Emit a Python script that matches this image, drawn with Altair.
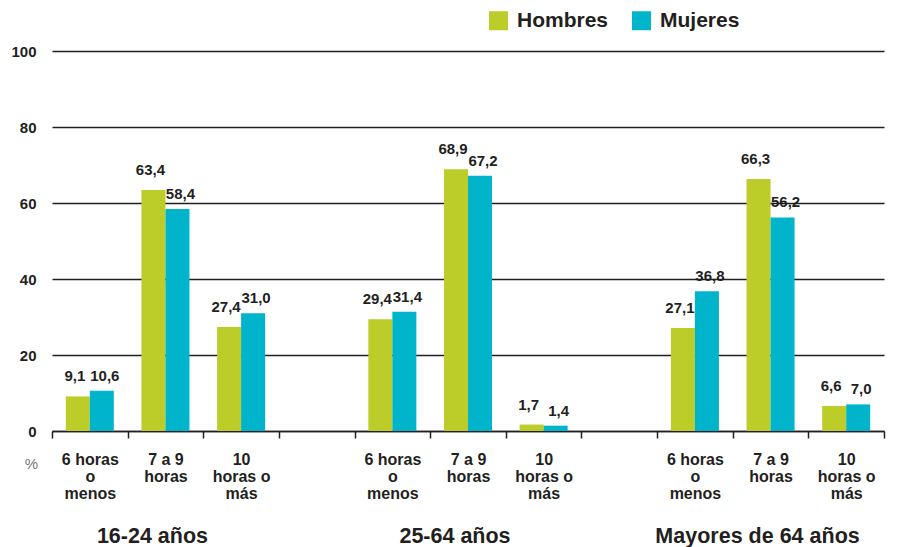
import altair as alt
import pandas as pd

groups = ["16-24 años", "25-64 años", "Mayores de 64 años"]
group_keys = ["a", "b", "c"]
hours = ["6 horas|o|menos", "7 a 9|horas", "10|horas o|más"]
sexes = ["Hombres", "Mujeres"]
hombres = [9.1, 63.4, 27.4, 29.4, 68.9, 1.7, 27.1, 66.3, 6.6]
mujeres = [10.6, 58.4, 31.0, 31.4, 67.2, 1.4, 36.8, 56.2, 7.0]
colors = ["#BCCC28", "#00B4CC"]
y_ticks = [0, 20, 40, 60, 80, 100]

FONT = "Liberation Sans"
INK = "#231F20"

domain = []
for gi, gk in enumerate(group_keys):
    for hi, h in enumerate(hours):
        domain.append(f"{gk}{hi}|{h}")
    if gi < len(group_keys) - 1:
        domain.append(f"s{gi}| ")

rows = []
for gi, gk in enumerate(group_keys):
    for hi, h in enumerate(hours):
        k = f"{gk}{hi}|{h}"
        idx = gi * 3 + hi
        for s, vals in zip(sexes, [hombres, mujeres]):
            v = vals[idx]
            rows.append({"cat": k, "sexo": s, "valor": v,
                         "etiqueta": f"{v:.1f}".replace(".", ",")})
df = pd.DataFrame(rows)
titles_df = pd.DataFrame({"cat": [f"{gk}1|{hours[1]}" for gk in group_keys],
                          "grupo": groups})

x_enc = alt.X(
    "cat:N",
    scale=alt.Scale(domain=domain, paddingInner=0, paddingOuter=0),
    sort=domain,
    axis=alt.Axis(
        title=None,
        labelExpr="slice(split(datum.label, '|'), 1)",
        labelAngle=0,
        labelAlign="center",
        labelBaseline="top",
        labelFont=FONT,
        labelFontSize=16,
        labelFontWeight="bold",
        labelColor=INK,
        labelLineHeight=17,
        labelPadding=13,
        labelLimit=200,
        tickBand="extent",
        tickSize=7,
        tickWidth=1.5,
        tickColor=INK,
        domainColor=INK,
        domainWidth=1.5,
        grid=False,
    ),
)

xoff = alt.XOffset("sexo:N", sort=sexes,
                   scale=alt.Scale(paddingInner=0, paddingOuter=0.575))

y_enc = alt.Y(
    "valor:Q",
    scale=alt.Scale(domain=[0, 100], nice=False),
    axis=alt.Axis(
        values=y_ticks,
        grid=True,
        gridColor=INK,
        gridWidth=1.3,
        domain=False,
        ticks=False,
        labelFont=FONT,
        labelFontSize=15,
        labelFontWeight="bold",
        labelColor=INK,
        labelPadding=16,
        title="%",
        titleAngle=0,
        titleX=-21,
        titleY=417,
        titleAlign="center",
        titleBaseline="alphabetic",
        titleFont=FONT,
        titleFontSize=15,
        titleFontWeight="normal",
        titleColor="#777777",
    ),
)

color_enc = alt.Color(
    "sexo:N",
    scale=alt.Scale(domain=sexes, range=colors),
    legend=alt.Legend(
        title=None,
        orient="none",
        direction="horizontal",
        legendX=436,
        legendY=-41,
        symbolType="square",
        symbolSize=361,
        symbolStrokeWidth=0,
        symbolOpacity=1,
        labelFont=FONT,
        labelFontSize=21,
        labelFontWeight="bold",
        labelColor=INK,
        labelOffset=8,
        columnPadding=22,
        padding=0,
    ),
)

bars = alt.Chart(df).mark_bar(opacity=1).encode(
    x=x_enc, xOffset=xoff, y=y_enc, color=color_enc
)

labels_h = alt.Chart(df).transform_filter(
    alt.datum.sexo == "Hombres"
).mark_text(
    font=FONT, fontSize=15, fontWeight="bold", color=INK,
    baseline="alphabetic", dy=-15, dx=-3
).encode(x=x_enc, xOffset=xoff, y="valor:Q", text="etiqueta:N")

labels_m = alt.Chart(df).transform_filter(
    alt.datum.sexo == "Mujeres"
).mark_text(
    font=FONT, fontSize=15, fontWeight="bold", color=INK,
    baseline="alphabetic", dy=-10, dx=3
).encode(x=x_enc, xOffset=xoff, y="valor:Q", text="etiqueta:N")

group_titles = alt.Chart(titles_df).mark_text(
    font=FONT, fontSize=21.5, fontWeight="bold", color=INK,
    baseline="alphabetic", dx=-13
).encode(x=x_enc, y=alt.value(492), text="grupo:N")

chart = alt.layer(bars, labels_h, labels_m, group_titles).properties(
    width=832,
    height=380,
    autosize=alt.AutoSizeParams(type="none"),
    padding={"left": 52, "top": 51, "right": 14, "bottom": 116},
    background="white",
).configure_view(stroke=None)

chart.save("out.html", embed_options={"renderer": "svg", "actions": False})
